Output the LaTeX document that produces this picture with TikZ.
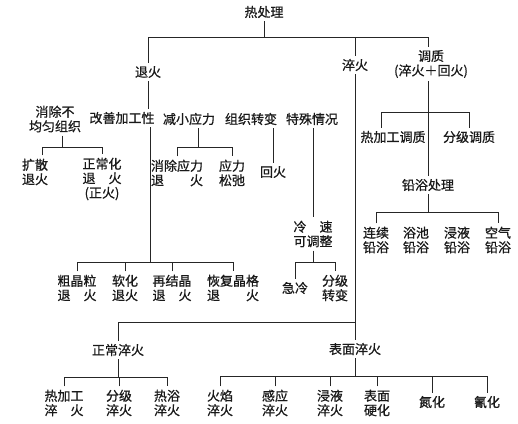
\documentclass[tikz,border=0pt]{standalone}
\usepackage{fontspec}
\newfontfamily\cjk[FakeBold=0.8]{Noto Sans CJK SC}
\begin{document}
\begin{tikzpicture}[x=1pt,y=-1pt,line width=0.8pt,color=black!85,
  txt/.style={inner xsep=1pt,inner ysep=3pt,align=center,text=black!90,
    font=\cjk\fontsize{13pt}{14.5pt}\selectfont}]
\useasboundingbox (0,0) rectangle (518,423);
% nodes
\node[txt] (title) at (264,12) {热处理};
\node[txt] (th) at (148,72) {退火};
\node[txt] (cj) at (355,65) {淬火};
\node[txt] (tz) at (431,64) {调质\\(淬火＋回火)};
\node[txt] (a1) at (55,119) {消除不\\均匀组织};
\node[txt] (a2) at (122,118) {改善加工性};
\node[txt] (a3) at (189,119) {减小应力};
\node[txt] (a4) at (251,119) {组织转变};
\node[txt] (a5) at (312,119) {特殊情况};
\node[txt] (rz1) at (393,137) {热加工调质};
\node[txt] (rz2) at (469,137) {分级调质};
\node[txt] (qy) at (428,185) {铅浴处理};
\node[txt] (q1) at (376,240) {连续\\铅浴};
\node[txt] (q2) at (416,240) {浴池\\铅浴};
\node[txt] (q3) at (457,240) {浸液\\铅浴};
\node[txt] (q4) at (498,240) {空气\\铅浴};
\node[txt] (b1) at (35,172) {扩散\\退火};
\node[txt] (b2) at (102,179) {正常化\\退　火\\(正火)};
\node[txt] (c1) at (177,173) {消除应力\\退　　火};
\node[txt] (c2) at (232,173) {应力\\松弛};
\node[txt] (d1) at (273,172) {回火};
\node[txt] (e1) at (313,234) {冷　速\\可调整};
\node[txt] (e2) at (295,288) {急冷};
\node[txt] (e3) at (335,288) {分级\\转变};
\node[txt] (f1) at (77,288) {粗晶粒\\退　火};
\node[txt] (f2) at (125,288) {软化\\退火};
\node[txt] (f3) at (172,288) {再结晶\\退　火};
\node[txt] (f4) at (233,288) {恢复晶格\\退　　火};
\node[txt] (g) at (118,350) {正常淬火};
\node[txt] (h) at (355,349) {表面淬火};
\node[txt] (g1) at (64,403) {热加工\\淬　火};
\node[txt] (g2) at (119,403) {分级\\淬火};
\node[txt] (g3) at (167,403) {热浴\\淬火};
\node[txt] (h1) at (220,403) {火焰\\淬火};
\node[txt] (h2) at (275,403) {感应\\淬火};
\node[txt] (h3) at (330,403) {浸液\\淬火};
\node[txt] (h4) at (377,403) {表面\\硬化};
\node[txt] (h5) at (432,402) {氮化};
\node[txt] (h6) at (487,402) {氰化};
% connectors
\coordinate (j0) at (264,37);
\draw (title) -- (j0);
\draw (th.north) -- (th.north |- j0) -- (428,37) -- (tz.north -| 428,0);
\draw (cj.north) -- (cj.north |- j0);
% tuihuo
\draw (th.south) -- (a2.north -| th.south);
\draw (a2.south -| 150,0) -- (150,262);
\draw (f1.north) |- (f4.north |- 0,262) -- (f4.north);
\draw (f2.north) -- (f2.north |- 0,262);
\draw (f3.north) -- (f3.north |- 0,262);
\draw (a1.south -| 62,0) -- (62,147);
\draw (b1.north -| 42,0) |- (b2.north |- 0,147) -- (b2.north);
\draw (a3.south -| 198,0) -- (198,147);
\draw (c1.north) |- (c2.north |- 0,147) -- (c2.north);
\draw (a4.south -| d1.north) -- (d1.north);
\draw (a5.south -| e1.north) -- (e1.north);
\draw (e1.south) -- (e1.south |- 0,262);
\draw (e2.north) |- (e3.north |- 0,262) -- (e3.north);
% cuihuo
\draw (cj.south) -- (h.north);
\draw (g.north) |- (h.north |- 0,322);
\draw (g.south) -- (g.south |- 0,377);
\draw (g1.north) |- (g3.north |- 0,377) -- (g3.north);
\draw (g2.north) -- (g2.north |- 0,377);
\draw (h.south) -- (h.south |- 0,376);
\draw (h1.north) |- (h6.north |- 0,376) -- (h6.north);
\draw (h2.north) -- (h2.north |- 0,376);
\draw (h3.north) -- (h3.north |- 0,376);
\draw (h4.north) -- (h4.north |- 0,376);
\draw (h5.north) -- (h5.north |- 0,376);
% tiaozhi
\draw (tz.south -| qy.north) -- (qy.north);
\draw (rz1.north -| 381,0) |- (rz2.north |- 0,112) -- (rz2.north);
\draw (qy.south) -- (qy.south |- 0,212);
\draw (q1.north) |- (q4.north |- 0,212) -- (q4.north);
\end{tikzpicture}
\end{document}
